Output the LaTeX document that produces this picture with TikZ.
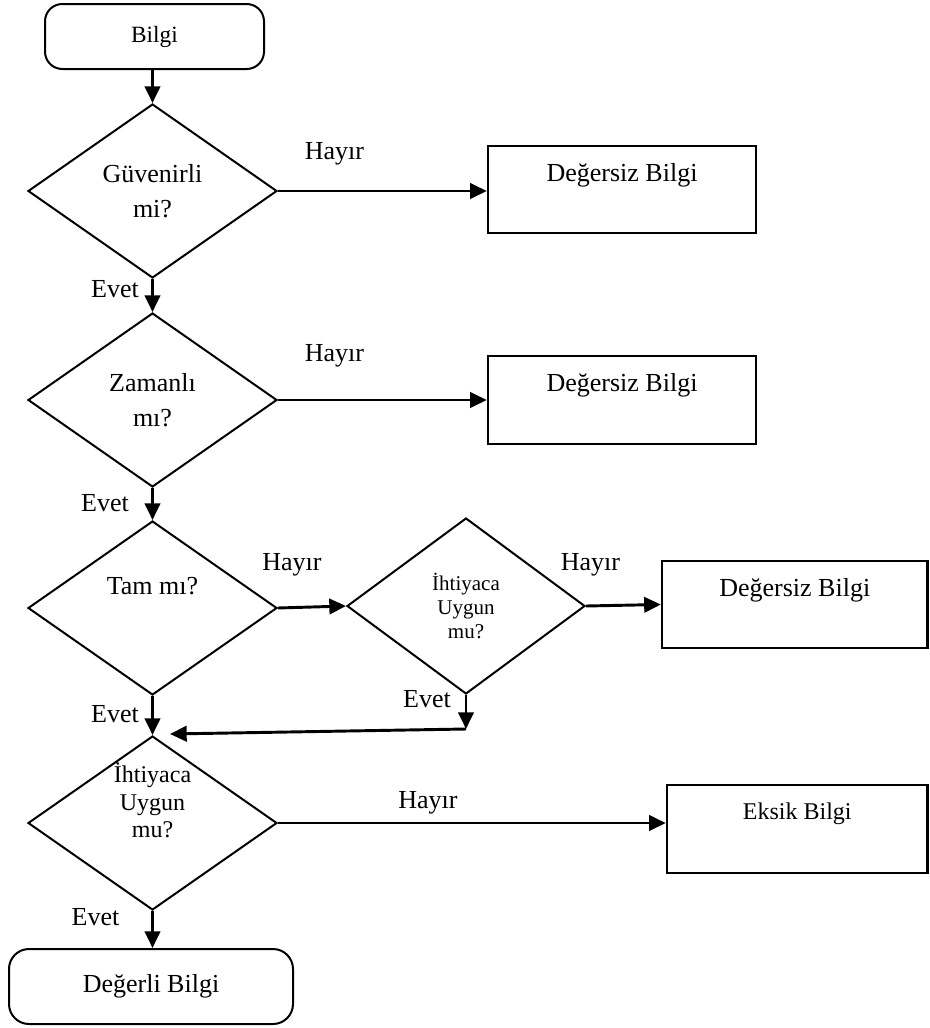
\documentclass[tikz,border=0pt]{standalone}
\usepackage{fontspec}
\setmainfont{Liberation Serif}
\usetikzlibrary{shapes.geometric, arrows.meta}

\tikzset{
    terminal/.style={draw, rectangle, rounded corners=13pt, line width=1.5pt, inner sep=0pt},
    decision/.style={draw, diamond, line width=1.5pt, inner sep=0pt, align=center,
        minimum width=186.75pt, minimum height=130.5pt,
        font=\fontsize{19.5pt}{26.25pt}\selectfont},
    outcome/.style={draw, rectangle, line width=1.8pt, inner sep=0pt,
        minimum width=201pt, minimum height=65.6pt, text depth=26pt,
        font=\fontsize{19.5pt}{23pt}\selectfont},
    answer/.style={inner sep=0pt, font=\fontsize{19.5pt}{23pt}\selectfont},
    flow/.style={line width=2.2pt, -{Triangle[length=12.5pt, width=11.5pt]}},
}

\begin{document}
\begin{tikzpicture}[x=0.75pt, y=-0.75pt]
\useasboundingbox (0, 0) rectangle (929, 1028);

% Start and end.
\draw (154.5, 36.5) node[terminal, minimum width=164.25pt, minimum height=48.75pt, font=\fontsize{17.5pt}{21pt}\selectfont] (Bilgi) {Bilgi};
\draw (151, 986.5) node[terminal, rounded corners=15pt, minimum width=213pt, minimum height=56.25pt, font=\fontsize{19.5pt}{23pt}\selectfont] (Degerli) {Değerli Bilgi};

% Defining the questions.
\draw (152.5, 191) node[decision] (D1) {Güvenirli\\mi?};
\draw (152.5, 400) node[decision] (D2) {Zamanlı\\mı?};
\draw (152.5, 608) node[decision, text depth=33pt] (D3) {Tam mı?};
\draw (466, 606) node[decision, minimum width=178.5pt, minimum height=132pt, font=\fontsize{15.75pt}{18pt}\selectfont] (D4) {İhtiyaca\\Uygun\\mu?};
\draw (152.5, 823) node[decision, label={[name=D5txt, align=center, yshift=17pt, font=\fontsize{18pt}{20.6pt}\selectfont]center:İhtiyaca\\Uygun\\mu?}] (D5) {};

% Defining the results.
\draw (622, 189.5) node[outcome] (R1) {Değersiz Bilgi};
\draw (622, 400) node[outcome] (R2) {Değersiz Bilgi};
\draw (794.75, 604.5) node[outcome, minimum width=199.1pt] (R3) {Değersiz Bilgi};
\draw (797.25, 829) node[outcome, minimum width=195.4pt, text depth=27pt, font=\fontsize{18pt}{21pt}\selectfont] (R4) {Eksik Bilgi};

% Answers.
\draw (334.5, 154) node[answer] (H1) {Hayır};
\draw (334.5, 356) node[answer] (H2) {Hayır};
\draw (292, 565) node[answer] (H3) {Hayır};
\draw (590.5, 565) node[answer] (H4) {Hayır};
\draw (428, 803) node[answer] (H5) {Hayır};
\draw (115, 289) node[answer] (E1) {Evet};
\draw (105, 503) node[answer] (E2) {Evet};
\draw (115, 714) node[answer] (E3) {Evet};
\draw (427, 699) node[answer] (E4) {Evet};
\draw (95.5, 917) node[answer] (E5) {Evet};

\coordinate (turn) at (466, 729);
\coordinate (merge) at (170, 734);

% Connectors.
\draw[flow] (D1.north |- Bilgi.south) -- (D1.north);
\draw[flow] (D1.east) -- (D1.east -| R1.west);
\draw[flow] (D1.south) -- (D2.north);
\draw[flow] (D2.east) -- (R2.west);
\draw[flow] (D2.south) -- (D3.north);
\draw[flow] (D3.east) -- (D4.west);
\draw[flow] (D4.east) -- (R3.west);
\draw[flow] (D4.south) -- (turn);
\draw[flow] (turn) -- (merge);
\draw[flow] (D3.south) -- (D5.north);
\draw[flow] (D5.east) -- (D5.east -| R4.west);
\draw[flow] (D5.south) -- (D5.south |- Degerli.north);

\end{tikzpicture}
\end{document}
